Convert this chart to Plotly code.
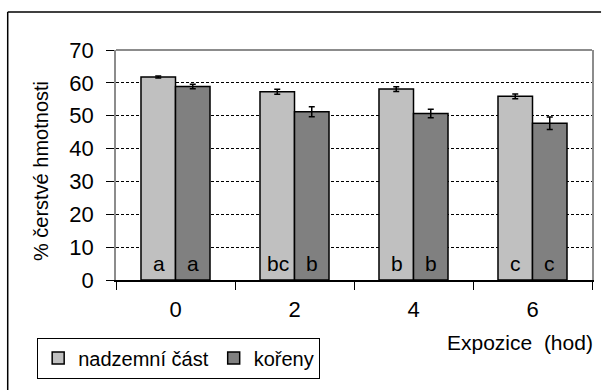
import plotly.graph_objects as go

categories = ["0", "2", "4", "6"]
nadzemni = [61.8, 57.3, 58.1, 55.9]
nadzemni_err = [0.3, 0.75, 0.7, 0.7]
koreny = [58.9, 51.2, 50.7, 47.7]
koreny_err = [0.7, 1.5, 1.3, 1.9]
letters_nadzemni = ["a", "bc", "b", "c"]
letters_koreny = ["a", "b", "b", "c"]
y_ticks = [0, 10, 20, 30, 40, 50, 60, 70]

FONT = "Liberation Sans, Arial, sans-serif"

fig = go.Figure()
fig.add_trace(go.Bar(
    x=categories, y=nadzemni, name="nadzemní část",
    marker=dict(color="#C0C0C0", line=dict(color="black", width=1.5)),
    error_y=dict(type="data", array=nadzemni_err, color="black", thickness=1.5, width=3),
))
fig.add_trace(go.Bar(
    x=categories, y=koreny, name="kořeny",
    marker=dict(color="#808080", line=dict(color="black", width=1.5)),
    error_y=dict(type="data", array=koreny_err, color="black", thickness=1.5, width=3),
))

annotations = []
for i, (l1, l2) in enumerate(zip(letters_nadzemni, letters_koreny)):
    annotations.append(dict(x=i, y=5, text=l1, showarrow=False, xshift=-17,
                            font=dict(family=FONT, size=21, color="black")))
    annotations.append(dict(x=i, y=5, text=l2, showarrow=False, xshift=17,
                            font=dict(family=FONT, size=21, color="black")))

annotations.append(dict(xref="paper", yref="paper", x=1.006, y=-0.27,
                        xanchor="right", yanchor="middle", showarrow=False,
                        text="Expozice  (hod)", font=dict(family=FONT, size=21, color="black")))
annotations.append(dict(xref="paper", yref="paper", x=-0.159, y=0.475,
                        xanchor="center", yanchor="middle", showarrow=False, textangle=-90,
                        text="% čerstvé hmotnosti", font=dict(family=FONT, size=20, color="black")))

shapes = [
    # outer frame (left and top)
    dict(type="line", xref="paper", yref="paper", x0=-0.2275, x1=-0.2275, y0=-0.6, y1=1.1657,
         line=dict(color="black", width=1.5)),
    dict(type="line", xref="paper", yref="paper", x0=-0.2275, x1=1.019, y0=1.1657, y1=1.1657,
         line=dict(color="black", width=1.5)),
    # plot area top border
    dict(type="line", xref="paper", yref="paper", x0=0, x1=1, y0=1, y1=1,
         line=dict(color="#8c8c8c", width=2)),
]

fig.update_layout(
    width=606, height=390,
    margin=dict(l=116, r=14, t=50, b=108),
    paper_bgcolor="white", plot_bgcolor="white",
    barmode="group", bargap=0.42, bargroupgap=0,
    font=dict(family=FONT, size=20, color="black"),
    showlegend=True,
    legend=dict(orientation="h", x=-0.1656, y=-0.25, xanchor="left", yanchor="top",
                bordercolor="black", borderwidth=1, bgcolor="white",
                font=dict(family=FONT, size=20, color="black"),
                itemwidth=30, tracegroupgap=0),
    annotations=annotations,
    shapes=shapes,
)
fig.update_xaxes(
    type="category", range=[-0.5, 3.5],
    showline=True, linecolor="black", linewidth=1.5,
    ticks="outside", tickson="boundaries", ticklen=8, tickcolor="black", tickwidth=1,
    showgrid=False, zeroline=False,
    tickfont=dict(family=FONT, size=22, color="black"),
    ticklabelstandoff=9,
)
fig.update_yaxes(
    range=[0, 70], tickvals=y_ticks,
    showline=True, linecolor="#8c8c8c", linewidth=1.5, mirror=True,
    ticks="outside", ticklen=8, tickcolor="black", tickwidth=1,
    showgrid=True, gridcolor="black", gridwidth=1, griddash="3px,2px",
    zeroline=False,
    tickfont=dict(family=FONT, size=22, color="black"),
    ticklabelstandoff=8,
)

fig.write_html("out.html", config={"displayModeBar": False},
               post_script="document.body.style.margin='0';")
